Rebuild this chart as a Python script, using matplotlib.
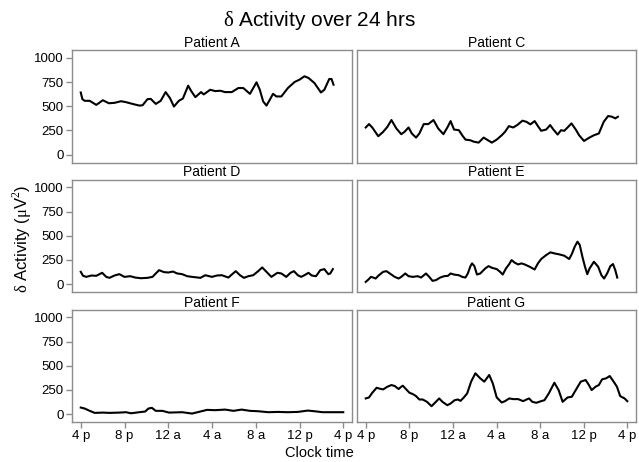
import matplotlib
matplotlib.use("Agg")
import matplotlib.pyplot as plt

plt.rcParams['font.family'] = ['Liberation Sans', 'DejaVu Sans']
plt.rcParams['mathtext.fontset'] = 'custom'
plt.rcParams['mathtext.rm'] = 'Liberation Serif'
plt.rcParams['mathtext.sf'] = 'Liberation Sans'

# hours since 4 pm, values in uV^2
hours_a = [0, 0.15, 0.36, 0.82, 1.42, 2.02, 2.57, 3.08, 3.69, 4.14, 4.74, 5.35, 5.65, 6.10, 6.40,
           6.86, 7.31, 7.76, 8.16, 8.52, 8.97, 9.34, 9.82, 10.12, 10.48, 11.00, 11.24, 11.84, 12.30,
           12.75, 13.20, 13.81, 14.41, 14.86, 15.47, 16.07, 16.37, 16.68, 16.98, 17.28, 17.58, 17.89,
           18.34, 18.94, 19.55, 20.00, 20.45, 20.82, 21.36, 21.96, 22.27, 22.72, 22.93, 23.11]
vals_a = [642, 573, 556, 556, 514, 562, 531, 535, 552, 542, 524, 507, 510, 573, 576,
          524, 556, 646, 583, 497, 556, 580, 712, 653, 594, 646, 622, 670, 656,
          660, 646, 646, 688, 688, 628, 747, 670, 549, 507, 566, 628, 601,
          601, 688, 750, 774, 809, 792, 740, 642, 670, 781, 781, 722]

hours_c = [0, 0.30, 0.60, 1.15, 1.60, 1.99, 2.36, 2.81, 3.26, 3.56, 3.93, 4.23, 4.62, 4.92, 5.32,
           5.74, 6.22, 6.65, 7.13, 7.49, 7.79, 8.10, 8.55, 8.85, 9.15, 9.61, 9.91, 10.36, 10.82,
           11.12, 11.57, 12.02, 12.48, 12.78, 13.14, 13.53, 13.90, 14.38, 14.74, 15.11, 15.50,
           15.80, 16.10, 16.56, 16.92, 17.22, 17.61, 17.92, 18.22, 18.52, 18.88, 19.27, 19.58,
           20.03, 20.48, 20.94, 21.39, 21.84, 22.24, 22.60, 22.90, 23.14]
vals_c = [281, 316, 281, 191, 236, 288, 358, 271, 212, 236, 281, 219, 177, 219, 316,
          316, 358, 271, 212, 281, 347, 260, 253, 201, 156, 149, 135, 125, 177,
          156, 125, 156, 201, 236, 295, 281, 306, 351, 340, 313, 347,
          295, 247, 260, 306, 260, 208, 253, 247, 281, 323, 260, 201,
          142, 174, 201, 219, 340, 399, 392, 375, 392]

hours_d = [0, 0.21, 0.51, 0.97, 1.42, 1.96, 2.33, 2.63, 3.08, 3.53, 3.99, 4.53, 4.98, 5.50, 6.10,
           6.56, 6.86, 7.16, 7.61, 8.01, 8.43, 8.82, 9.27, 9.73, 10.18, 10.94, 11.39, 11.99, 12.45,
           12.90, 13.50, 13.81, 14.17, 14.56, 14.92, 15.32, 15.77, 16.22, 16.59, 16.98, 17.43,
           17.98, 18.34, 18.79, 19.18, 19.49, 19.85, 20.15, 20.45, 20.82, 21.12, 21.51, 21.90,
           22.27, 22.63, 22.81, 23.05]
vals_d = [128, 87, 76, 90, 87, 118, 76, 66, 90, 104, 76, 83, 69, 62, 66,
          76, 111, 145, 125, 121, 131, 111, 104, 83, 76, 66, 93, 76, 90,
          93, 69, 100, 135, 93, 66, 83, 93, 135, 173, 128, 76,
          118, 111, 76, 118, 135, 93, 76, 93, 118, 90, 83, 145,
          156, 104, 111, 156]

hours_e = [0, 0.24, 0.48, 0.69, 0.91, 1.21, 1.60, 1.90, 2.21, 2.66, 3.02, 3.26, 3.63, 3.93, 4.32,
           4.77, 5.08, 5.53, 5.83, 6.13, 6.44, 6.83, 7.19, 7.55, 7.79, 8.10, 8.55, 8.85, 9.15,
           9.37, 9.61, 9.76, 9.97, 10.21, 10.51, 10.97, 11.27, 11.57, 12.02, 12.33, 12.57, 12.87,
           13.17, 13.38, 13.69, 13.99, 14.29, 14.59, 15.05, 15.50, 15.80, 16.10, 16.56, 16.95,
           17.31, 17.76, 18.22, 18.67, 18.91, 19.18, 19.43, 19.64, 19.88, 20.12, 20.33, 20.54,
           20.94, 21.33, 21.63, 21.87, 22.15, 22.45, 22.69, 22.90, 23.08]
vals_e = [24, 48, 76, 69, 59, 93, 128, 135, 111, 76, 59, 76, 111, 83, 76,
          83, 69, 111, 76, 35, 42, 69, 83, 87, 111, 100, 93, 76, 69,
          111, 187, 215, 187, 100, 111, 163, 187, 170, 156, 128, 100, 163,
          208, 249, 221, 204, 215, 204, 180, 152, 215, 260, 301, 329,
          318, 308, 294, 260, 311, 388, 439, 405, 284, 180, 104, 163,
          232, 180, 93, 59, 111, 187, 208, 145, 69]

hours_f = [0, 0.36, 0.82, 1.27, 2.02, 2.63, 3.53, 4.14, 4.59, 5.35, 5.89, 6.19, 6.50, 6.86, 7.46,
           8.07, 9.27, 10.18, 10.79, 11.54, 12.30, 13.20, 13.96, 14.71, 15.47, 16.22, 17.13,
           18.04, 18.94, 19.85, 20.76, 21.36, 22.11, 23.17, 24.0]
vals_f = [69, 59, 35, 14, 17, 14, 17, 21, 10, 21, 28, 59, 66, 35, 35,
          17, 21, 7, 24, 45, 42, 48, 35, 48, 35, 31, 21,
          24, 21, 24, 38, 31, 21, 21, 21]

hours_g = [0, 0.30, 0.60, 1.00, 1.30, 1.60, 1.99, 2.36, 2.66, 3.02, 3.26, 3.41, 3.72, 4.02, 4.32,
           4.62, 4.92, 5.23, 5.62, 6.04, 6.44, 6.74, 7.04, 7.49, 7.79, 8.16, 8.46, 8.70, 9.00,
           9.31, 9.67, 10.06, 10.51, 10.88, 11.33, 11.66, 12.02, 12.48, 12.78, 13.17, 13.53,
           13.99, 14.44, 14.98, 15.29, 15.65, 16.10, 16.40, 16.80, 17.31, 17.70, 18.07, 18.52,
           18.91, 19.27, 19.73, 20.18, 20.48, 20.73, 21.09, 21.39, 21.69, 22.05, 22.39, 22.75,
           23.05, 23.35, 23.75, 24.0]
vals_g = [163, 173, 221, 273, 263, 256, 284, 301, 291, 260, 284, 294, 256, 221, 208,
          187, 152, 152, 128, 83, 128, 163, 128, 93, 111, 145, 152, 138, 173,
          215, 336, 422, 370, 336, 405, 318, 173, 121, 135, 163, 156,
          156, 135, 163, 128, 118, 135, 145, 215, 325, 249, 128, 173,
          180, 249, 336, 353, 301, 249, 284, 301, 360, 370, 394, 336,
          284, 187, 163, 135]

titles = ['Patient A', 'Patient C', 'Patient D', 'Patient E', 'Patient F', 'Patient G']
series = [(hours_a, vals_a), (hours_c, vals_c), (hours_d, vals_d),
          (hours_e, vals_e), (hours_f, vals_f), (hours_g, vals_g)]
xtick_pos = [0, 4, 8, 12, 16, 20, 24]
xtick_labels = ['4 p', '8 p', '12 a', '4 a', '8 a', '12 p', '4 p']
ytick_pos = [0, 250, 500, 750, 1000]

W, H = 639, 462
fig = plt.figure(figsize=(W / 100, H / 100), dpi=100)

lefts = [72, 357]
widths = [280, 279]
tops = [50, 179.5, 309.5]
height = 112.5
frame = '#8c8c8c'

for i, (title, (x, y)) in enumerate(zip(titles, series)):
    row, col = divmod(i, 2)
    ax = fig.add_axes([lefts[col] / W, 1 - (tops[row] + height) / H, widths[col] / W, height / H])
    ax.plot(x, y, color='black', lw=1.5, solid_joinstyle='round')
    ax.set_xlim(-0.8, 24.8)
    ax.set_ylim(-80, 1080)
    ax.set_title(title, fontsize=10, pad=2)
    for s in ax.spines.values():
        s.set_color(frame)
        s.set_linewidth(1)
    ax.tick_params(color=frame, length=4, width=1, labelsize=9.5, pad=2)
    ax.set_xticks(xtick_pos)
    ax.set_yticks(ytick_pos)
    if row == 2:
        ax.set_xticklabels(xtick_labels)
    else:
        ax.tick_params(bottom=False, labelbottom=False)
    if col == 1:
        ax.tick_params(left=False, labelleft=False)

fig.text(0.5, 1 - 20 / H, r'$\mathrm{\delta}$ Activity over 24 hrs', ha='center', va='center', fontsize=15)
fig.text(22 / W, 1 - 239 / H, r'$\mathrm{\delta}$ Activity ($\mathrm{\mu}\mathsf{V}^{2}$)', rotation=90,
         ha='center', va='center', fontsize=12)
fig.text(0.5, 1 - 453 / H, 'Clock time', ha='center', va='center', fontsize=10.5)

fig.savefig('out.png', dpi=100)
